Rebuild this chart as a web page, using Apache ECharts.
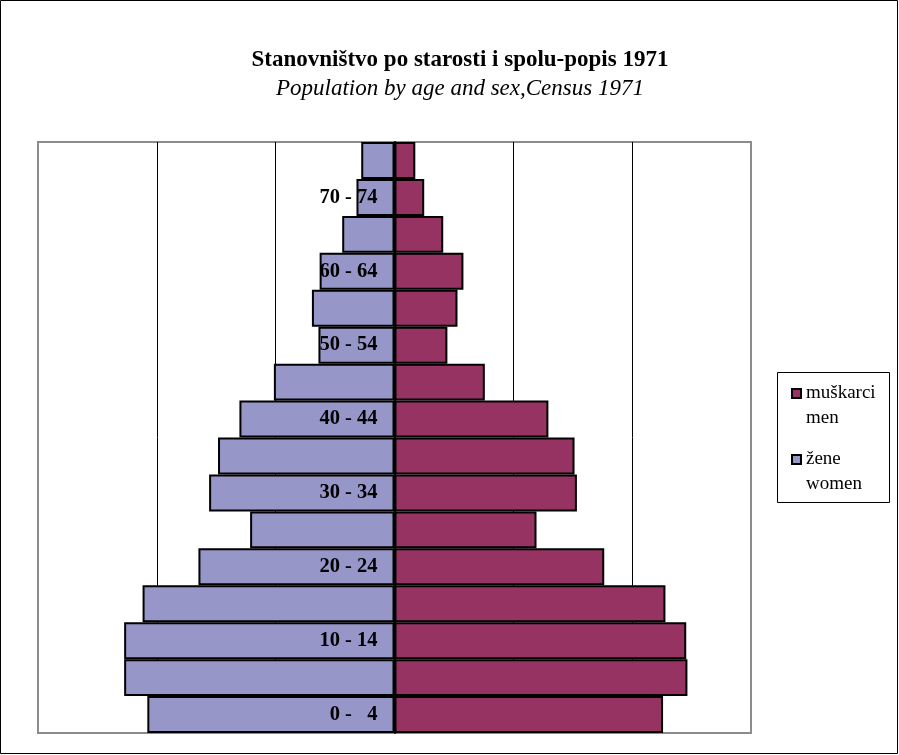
<!DOCTYPE html>
<html>
<head>
<meta charset="utf-8">
<script src="https://cdn.jsdelivr.net/npm/echarts@6/dist/echarts.min.js"></script>
<style>
    html, body { margin: 0; padding: 0; background: #fff; }
    #main { width: 899px; height: 755px; }
</style>
</head>
<body>
<div id="main"></div>
<script>
// dobne skupine (odozdo prema gore)
const ageGroups = ['0 -   4', '5 -   9', '10 - 14', '15 - 19', '20 - 24', '25 - 29', '30 - 34', '35 - 39',
    '40 - 44', '45 - 49', '50 - 54', '55 - 59', '60 - 64', '65 - 69', '70 - 74', '75 +'];
// muškarci / men
const men = [2260, 2465, 2455, 2280, 1765, 1195, 1535, 1515, 1295, 760, 445, 530, 580, 410, 250, 175];
// žene / women (crtaju se lijevo)
const women = [2080, 2275, 2275, 2120, 1650, 1215, 1560, 1485, 1305, 1015, 640, 695, 630, 440, 320, 280];

const serif = '"Liberation Serif", "Times New Roman", serif';
const gridLeft = 38, gridRight = 148;
const legendBox = { x: 777, y: 372, w: 112, h: 130 };

const chartDom = document.getElementById('main');
const myChart = echarts.init(chartDom);

// os kategorija pomaknuta na sredinu (x = 0)
const halfWidth = (899 - gridLeft - gridRight) / 2;

const option = {
    animation: false,
    title: {
        text: 'Stanovništvo po starosti i spolu-popis 1971',
        subtext: 'Population by age and sex,Census 1971',
        left: 460,
        textAlign: 'center',
        top: 49,
        padding: 0,
        itemGap: 5,
        textStyle: { fontFamily: serif, fontWeight: 'bold', fontSize: 23, color: '#000' },
        subtextStyle: { fontFamily: serif, fontStyle: 'italic', fontSize: 23, color: '#000' }
    },
    legend: {
        orient: 'vertical',
        left: 791,
        top: 356,
        padding: 0,
        itemGap: -9,
        itemWidth: 9,
        itemHeight: 9,
        icon: 'rect',
        data: ['muškarci\nmen', 'žene\nwomen'],
        // prazan red iznad da kvadratić stoji uz prvi red teksta
        formatter: name => ' \n' + name,
        textStyle: { fontFamily: serif, fontSize: 19, color: '#000', lineHeight: 25 }
    },
    graphic: [
        {
            type: 'rect',
            shape: { x: 0.5, y: 0.5, width: 897, height: 753 },
            style: { fill: 'none', stroke: '#000', lineWidth: 1 }
        },
        {
            type: 'rect',
            shape: { x: legendBox.x + 0.5, y: legendBox.y + 0.5, width: legendBox.w, height: legendBox.h },
            style: { fill: 'none', stroke: '#000', lineWidth: 1 }
        }
    ],
    grid: {
        left: gridLeft,
        right: gridRight,
        top: 142,
        bottom: 22,
        outerBoundsMode: 'none',
        containLabel: false,
        show: true,
        borderColor: '#8c8c8c',
        borderWidth: 2
    },
    xAxis: {
        type: 'value',
        min: -3000,
        max: 3000,
        interval: 1000,
        z: 0,
        axisLabel: { show: false },
        axisTick: { show: false },
        axisLine: { show: false },
        splitLine: {
            show: true,
            showMinLine: false,
            showMaxLine: false,
            lineStyle: { color: '#000', width: 1 }
        }
    },
    yAxis: {
        type: 'category',
        data: ageGroups,
        position: 'left',
        offset: -halfWidth,
        z: 10,
        axisLine: { show: true, onZero: false, lineStyle: { color: '#000', width: 2 } },
        axisTick: { show: false },
        axisLabel: {
            interval: 1,
            margin: 17,
            fontFamily: serif,
            fontWeight: 'bold',
            fontSize: 20.5,
            color: '#000'
        }
    },
    series: [
        {
            name: 'muškarci\nmen',
            type: 'bar',
            stack: 'pop',
            z: 5,
            barCategoryGap: '0%',
            data: men,
            itemStyle: { color: '#963362', borderColor: '#000', borderWidth: 2 }
        },
        {
            name: 'žene\nwomen',
            type: 'bar',
            stack: 'pop',
            z: 5,
            barCategoryGap: '0%',
            data: women.map(v => -v),
            itemStyle: { color: '#9696c8', borderColor: '#000', borderWidth: 2 }
        }
    ]
};

myChart.setOption(option);
</script>
</body>
</html>
